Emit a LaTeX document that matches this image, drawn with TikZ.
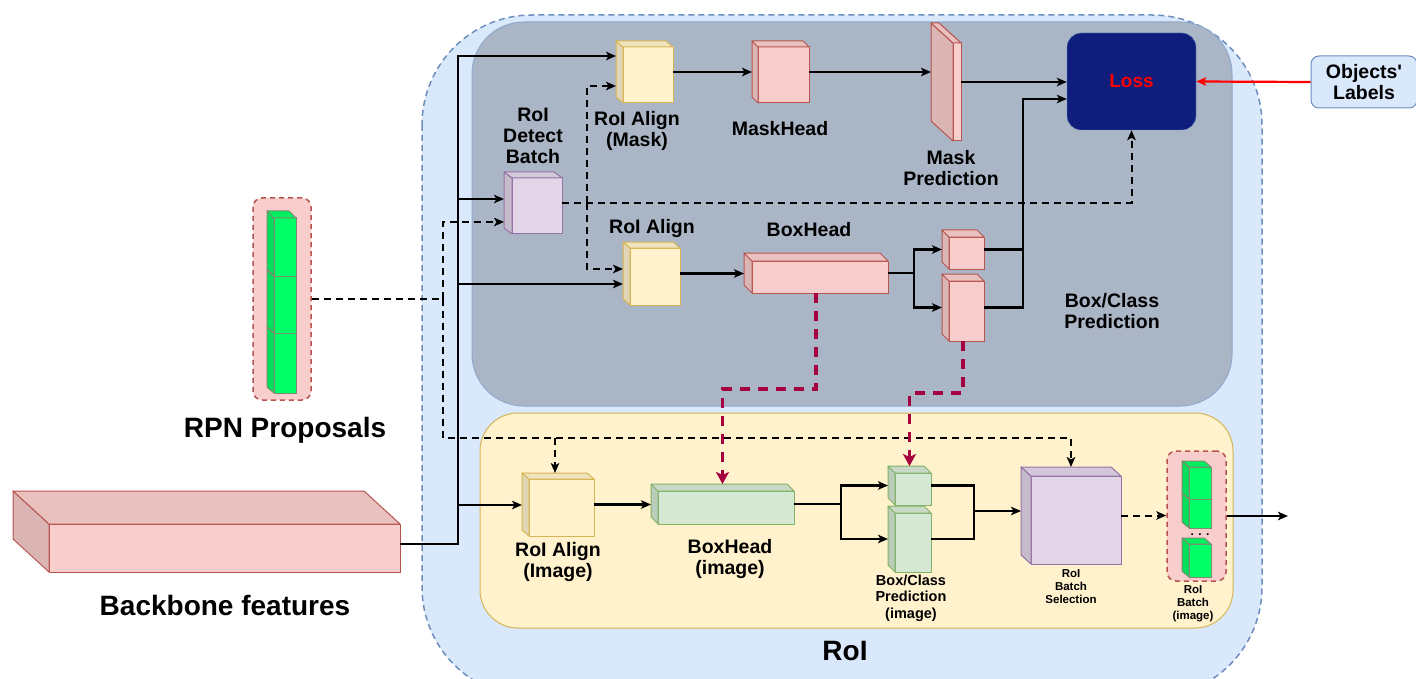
\documentclass[tikz,border=0pt]{standalone}
\usepackage{fontspec}
\setmainfont{Liberation Sans}
\usetikzlibrary{arrows.meta,calc}
\definecolor{roiFill}{HTML}{DAE8FC}
\definecolor{roiLine}{HTML}{6C8EBF}
\definecolor{greyFill}{HTML}{AAB5C6}
\definecolor{greyLine}{HTML}{8FA8CC}
\definecolor{ylFill}{HTML}{FFF2CC}
\definecolor{ylLine}{HTML}{D6B656}
\definecolor{pkFill}{HTML}{F8CECC}
\definecolor{pkLine}{HTML}{B85450}
\definecolor{puFill}{HTML}{E1D5E7}
\definecolor{puLine}{HTML}{9673A6}
\definecolor{gnFill}{HTML}{D5E8D4}
\definecolor{gnLine}{HTML}{82B366}
\definecolor{bgFill}{HTML}{00FF66}
\definecolor{bgLine}{HTML}{7E8B6E}
\definecolor{lossFill}{HTML}{0F1E7C}
\definecolor{maroonc}{HTML}{A50040}
\newcommand\cubeit[9]{%
  \node[inner sep=0pt, outer sep=0pt, minimum width=#4pt, minimum height=#5pt, anchor=north west] (#1) at (#2,#3) {};
  \filldraw[fill=#8, draw=#9, line width=1pt] ($(#1.north west)+(#6,#7)$) rectangle (#1.south east);
  \filldraw[fill=#8!88!black, draw=#9, line width=1pt, line join=round] (#1.north west) -- ($(#1.north west)+(#6,#7)$) -- ($(#1.south west)+(#6,0)$) -- ($(#1.south west)+(0,-#7)$) -- cycle;
  \filldraw[fill=#8!94!black, draw=#9, line width=1pt, line join=round] (#1.north west) -- ($(#1.north east)+(-#6,0)$) -- ($(#1.north east)+(0,#7)$) -- ($(#1.north west)+(#6,#7)$) -- cycle;
}
\tikzset{
  arr/.style={line width=2.2pt, -{Stealth[length=10pt,width=8.5pt,inset=2.5pt]}},
  ln/.style={line width=2.2pt},
  dsh/.style={line width=2pt, dash pattern=on 7pt off 5pt},
  darr/.style={dsh, -{Stealth[length=10pt,width=8.5pt,inset=2.5pt]}},
  mar/.style={line width=3.5pt, draw=maroonc, dash pattern=on 10pt off 8pt, -{Stealth[length=12pt,width=13pt,inset=3pt]}},
  lbl/.style={font=\bfseries\fontsize{19.5}{21}\selectfont, align=center, inner sep=0pt},
  big/.style={font=\bfseries\fontsize{28}{32}\selectfont, inner sep=0pt},
  sml/.style={font=\bfseries\fontsize{14.5}{16.5}\selectfont, align=center, inner sep=0pt},
  tiny/.style={font=\bfseries\fontsize{11.5}{13}\selectfont, align=center, inner sep=0pt},
  propbox/.style={draw=pkLine, fill=pkFill, line width=1.5pt, dash pattern=on 5pt off 4pt, rounded corners=9pt, inner sep=0pt}
}
\begin{document}
\begin{tikzpicture}[x=1pt,y=-1pt]
\useasboundingbox (0,0) rectangle (1416,679);
\fill[white] (0,0) rectangle (1416,679);
\begin{scope}
\clip (0,0) rectangle (1416,679);
% containers
\filldraw[fill=roiFill, draw=roiLine, line width=1.5pt, dash pattern=on 6pt off 4pt, rounded corners=110pt] (422,15) rectangle (1262,697);
\end{scope}
\filldraw[fill=greyFill, draw=greyLine, line width=1pt, rounded corners=52pt] (472,22) rectangle (1232,406);
\filldraw[fill=ylFill, draw=ylLine, line width=1pt, rounded corners=38pt] (480,413) rectangle (1233,628);

% boxes
\node[propbox, minimum width=58pt, minimum height=202pt] (rpn) at (282,299) {};
\node[propbox, minimum width=59pt, minimum height=130pt] (batch) at (1196.5,516) {};
\node[fill=lossFill, draw=roiLine, rounded corners=14pt, minimum width=129pt, minimum height=97pt, inner sep=0pt, text=red, font=\bfseries\fontsize{19}{21}\selectfont] (loss) at (1131.5,81.5) {Loss};
\node[fill=roiFill, draw=roiLine, line width=1pt, rounded corners=8pt, minimum width=106pt, minimum height=52pt, inner sep=0pt, align=center, font=\bfseries\fontsize{19.5}{21}\selectfont] (labels) at (1364,82) {Objects\textquotesingle\\Labels};

% cubes
\cubeit{maskalign}{616}{41}{57}{62}{7}{6}{ylFill}{ylLine}
\cubeit{maskhead}{752}{41}{57}{62}{6}{6}{pkFill}{pkLine}
\cubeit{maskpred}{931}{23}{30}{118}{22}{20}{pkFill}{pkLine}
\cubeit{detect}{504}{172}{58}{62}{8}{6}{puFill}{puLine}
\cubeit{align}{623}{242}{57}{63}{7}{6}{ylFill}{ylLine}
\cubeit{boxhead}{744}{253}{144}{40}{8}{8}{pkFill}{pkLine}
\cubeit{cls1}{942}{230}{42}{39}{7}{7}{pkFill}{pkLine}
\cubeit{cls2}{942}{274}{42}{67}{7}{7}{pkFill}{pkLine}
\cubeit{backbone}{13}{491}{387}{81}{36}{33}{pkFill}{pkLine}
\cubeit{imgalign}{522}{473}{72}{63}{7}{6}{ylFill}{ylLine}
\cubeit{imgbox}{651}{484}{143}{40}{7}{7}{gnFill}{gnLine}
\cubeit{icls1}{888}{466}{43}{39}{7}{7}{gnFill}{gnLine}
\cubeit{icls2}{888}{506}{43}{66}{7}{7}{gnFill}{gnLine}
\cubeit{bsel}{1021}{467}{100}{97}{10}{9}{puFill}{puLine}
\cubeit{rpnC}{267}{327}{29}{66}{7}{6}{bgFill}{bgLine}
\cubeit{rpnB}{267}{270}{29}{63}{7}{6}{bgFill}{bgLine}
\cubeit{rpnA}{267}{211}{29}{65}{7}{7}{bgFill}{bgLine}
\cubeit{btC}{1182}{538}{29}{39}{7}{6}{bgFill}{bgLine}
\cubeit{btB}{1182}{493}{29}{35}{7}{6}{bgFill}{bgLine}
\cubeit{btA}{1182}{461}{29}{38}{7}{6}{bgFill}{bgLine}
\node[font=\bfseries\fontsize{12}{12}\selectfont, inner sep=0pt, anchor=base] (dots) at (1200,535) {. . .};

% backbone bus
\coordinate (bT) at (458,56);
\coordinate (b1) at (458,199);
\coordinate (b2) at (458,284);
\coordinate (b3) at (458,505);
\coordinate (b4) at (458,544);
\draw[arr] (backbone.east |- b4) -| (bT) -- (maskalign.west |- bT);
\draw[arr] (b1) -- (detect.west |- b1);
\draw[arr] (b2) -- (align.west |- b2);
\draw[arr] (b3) -- (imgalign.west |- b3);

% RPN proposals dashed
\coordinate (r1) at (443,299);
\coordinate (r0) at (443,222);
\coordinate (r2) at (443,438);
\coordinate (r3) at (555,438);
\draw[dsh] (rpn.east) -- (r1);
\draw[darr] (r1) -- (r0) -- (detect.west |- r0);
\draw[darr] (r1) -- (r2) -| (bsel.north);
\draw[darr] (r3) -- (imgalign.north -| r3);

% detect batch dashed
\coordinate (d0) at (587,86);
\coordinate (d1) at (587,203);
\coordinate (d2) at (587,269);
\draw[darr] (detect.east) -| (loss.south);
\draw[darr] (d1) -- (d0) -- (maskalign.west |- d0);
\draw[darr] (d1) -- (d2) -- (align.west |- d2);

% mask branch
\draw[arr] (maskalign.east) -- (maskhead.west);
\draw[arr] (maskhead.east) -- (maskpred.west |- maskhead.east);
\draw[arr] (maskpred.east) -- (loss.west |- maskpred.east);

% box branch
\coordinate (s1) at (914,273);
\draw[arr] (align.east) -- (boxhead.west |- align.east);
\draw[arr] (boxhead.east) -- (s1 |- boxhead.east) |- (cls1.west);
\draw[arr] (s1 |- boxhead.east) |- (cls2.west);
\coordinate (l1) at (1023,99);
\draw[ln] (cls1.east) -- (cls1.east -| l1);
\draw[arr] (cls2.east) -| (l1) -- (loss.west |- l1);
\draw[arr, red] (labels.west) -- (loss.east);

% maroon transfers
\coordinate (m1) at (816,389);
\coordinate (m2) at (963,393);
\draw[mar] (boxhead.south) -- (boxhead.south |- m1) -| (imgbox.north);
\draw[mar] (cls2.south) -- (cls2.south |- m2) -| (icls1.north);

% image branch
\draw[arr] (imgalign.east) -- (imgbox.west |- imgalign.east);
\coordinate (s2) at (841,504);
\draw[arr] (imgbox.east) -- (s2 |- imgbox.east) |- (icls1.west);
\draw[arr] (s2 |- imgbox.east) |- (icls2.west);
\coordinate (c1) at (974,511);
\draw[ln] (icls1.east) -| (c1);
\draw[ln] (icls2.east) -| (c1);
\draw[arr] (c1) -- (bsel.west |- c1);
\draw[darr] (bsel.east) -- (batch.west |- bsel.east);
\coordinate (out) at (1288,516);
\draw[arr] (batch.east) -- (out);

% labels
\node[lbl] (tMaskAlign) at (637,131) {RoI Align\\(Mask)};
\node[lbl] (tMaskHead) at (780,129) {MaskHead};
\node[lbl] (tDetect) at (533,136) {RoI\\Detect\\Batch};
\node[lbl] (tMaskPred) at (951,168) {Mask\\Prediction};
\node[lbl] (tAlign) at (652,229) {RoI Align};
\node[lbl] (tBoxHead) at (809,230) {BoxHead};
\node[lbl] (tBoxCls) at (1112,311) {Box/Class\\Prediction};
\node[big] (tRPN) at (285,430) {RPN Proposals};
\node[big] (tBackbone) at (225,605) {Backbone features};
\node[lbl] (tImgAlign) at (558,562) {RoI Align\\(Image)};
\node[lbl] (tImgBox) at (730,559) {BoxHead\\(image)};
\node[sml] (tImgCls) at (911,598) {Box/Class\\Prediction\\(image)};
\node[tiny] (tSel) at (1071,587) {RoI\\Batch\\Selection};
\node[tiny] (tBatch) at (1193,604) {RoI\\Batch\\(image)};
\node[big] (tRoI) at (845,651) {RoI};
\end{tikzpicture}
\end{document}
